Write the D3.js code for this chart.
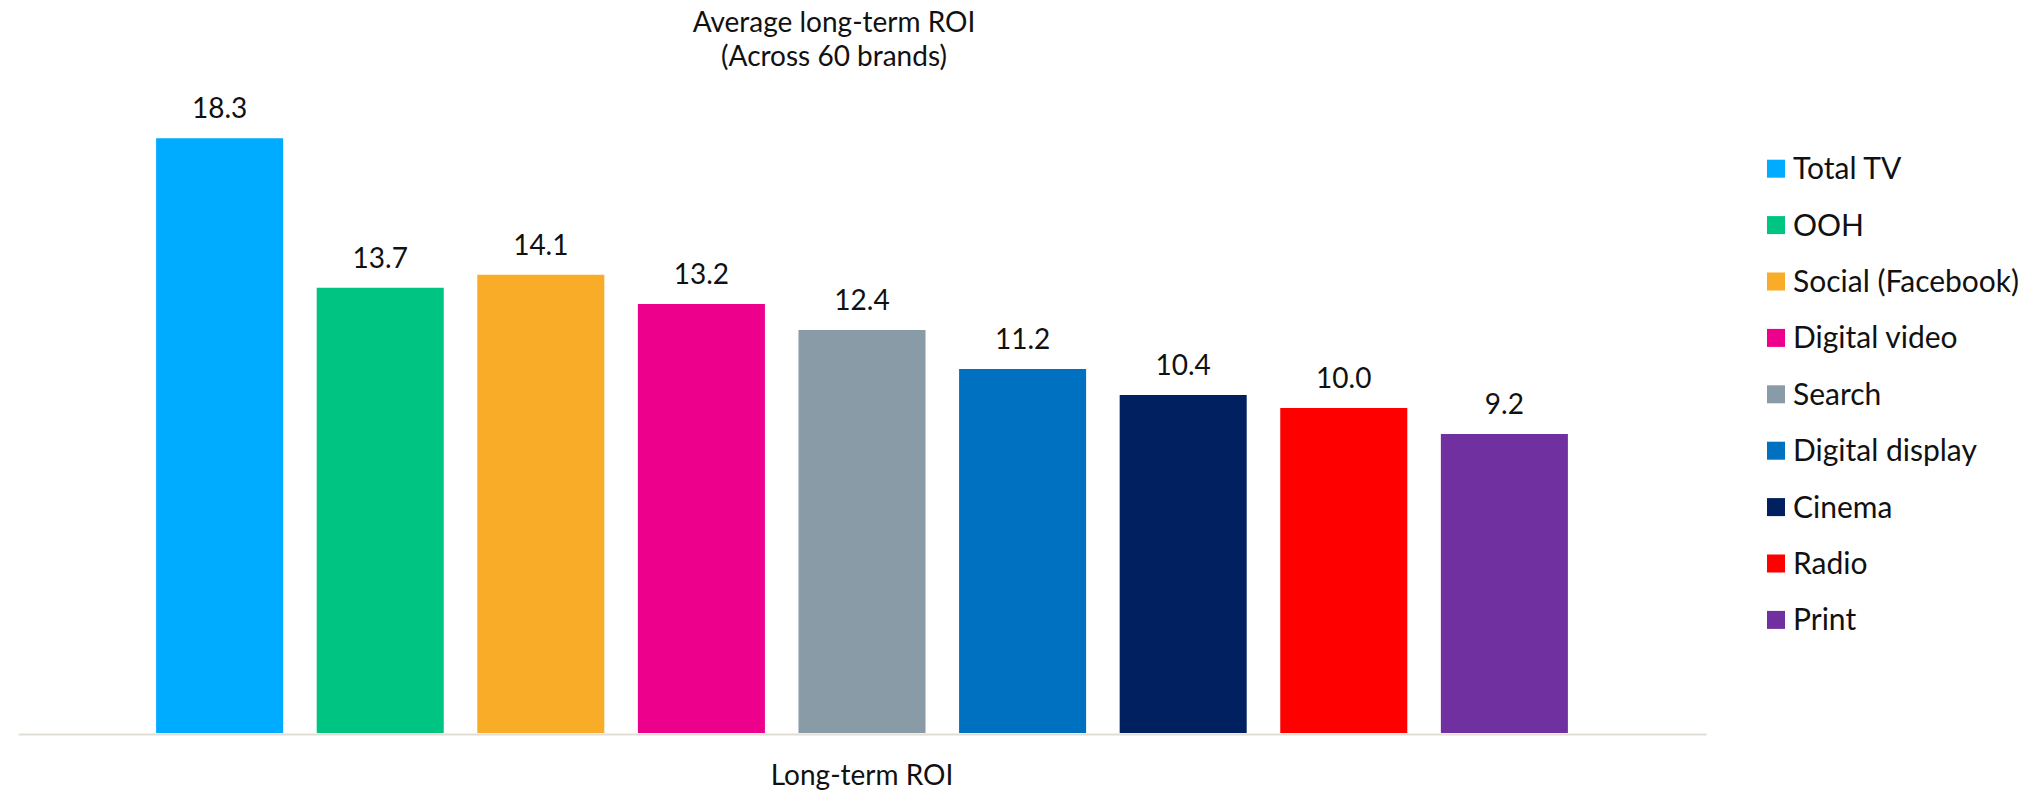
<!DOCTYPE html>
<html>
<head>
<meta charset="utf-8">
<script src="https://cdn.jsdelivr.net/npm/d3@7"></script>
<style>
  body { margin: 0; background: #fff; }
  text { font-family: Lato, "Open Sans", sans-serif; fill: #111; }
</style>
</head>
<body>
<svg id="chart" width="2026" height="792"></svg>
<script>
// data
var categories = ["Total TV", "OOH", "Social (Facebook)", "Digital video", "Search",
                  "Digital display", "Cinema", "Radio", "Print"];
var roi = [18.3, 13.7, 14.1, 13.2, 12.4, 11.2, 10.4, 10.0, 9.2];
var palette = ["#00acff", "#00c482", "#f9ac28", "#ec008c", "#8a9ba8",
               "#0070c0", "#002060", "#ff0000", "#7030a0"];

var width = 2026, height = 792;
var baseY = 733;
var fontSize = 28;

var svg = d3.select("svg#chart");

var x = d3.scaleBand()
    .domain(categories)
    .range([18, 1706])
    .paddingInner(0.209)
    .paddingOuter(0.86);

var y = d3.scaleLinear()
    .domain([0, 20])
    .range([baseY, 83]);

var color = d3.scaleOrdinal().domain(categories).range(palette);

var rows = categories.map(function(c, i){ return {name: c, value: roi[i]}; });

// title
svg.append("text")
    .attr("x", 834)
    .attr("text-anchor", "middle")
    .style("font-size", fontSize + "px")
    .selectAll("tspan")
    .data(["Average long-term ROI", "(Across 60 brands)"])
    .enter()
    .append("tspan")
    .attr("x", 834)
    .attr("y", function(d, i){ return 32 + i * 34; })
    .text(function(d){ return d; });

// bars
svg.append("g")
    .selectAll("rect")
    .data(rows)
    .enter()
    .append("rect")
    .attr("x", function(d){ return x(d.name); })
    .attr("y", function(d){ return y(d.value); })
    .attr("width", x.bandwidth())
    .attr("height", function(d){ return baseY - y(d.value); })
    .style("fill", function(d){ return color(d.name); });

// value labels
svg.append("g")
    .selectAll("text")
    .data(rows)
    .enter()
    .append("text")
    .attr("x", function(d){ return x(d.name) + x.bandwidth() / 2; })
    .attr("y", function(d){ return y(d.value) - 20; })
    .attr("text-anchor", "middle")
    .style("font-size", fontSize + "px")
    .text(function(d){ return d.value.toFixed(1); });

// x axis line, no ticks
var axis = svg.append("g")
    .attr("transform", "translate(0," + (baseY + 1) + ")")
    .call(d3.axisBottom(x).tickSize(0).tickFormat(""));
axis.select(".domain").attr("stroke", "#e2ded6").attr("stroke-width", 2);

svg.append("text")
    .attr("x", (x.range()[0] + x.range()[1]) / 2)
    .attr("y", 785)
    .attr("text-anchor", "middle")
    .style("font-size", fontSize + "px")
    .text("Long-term ROI");

// legend
var legend = svg.append("g")
    .selectAll("g")
    .data(categories)
    .enter()
    .append("g")
    .attr("transform", function(d, i){ return "translate(1767," + (168.7 + i * 56.4) + ")"; });

legend.append("rect")
    .attr("x", 0)
    .attr("y", -9)
    .attr("width", 18)
    .attr("height", 18)
    .style("fill", function(d){ return color(d); });

legend.append("text")
    .attr("x", 26)
    .attr("y", 10.5)
    .style("font-size", "30px")
    .text(function(d){ return d; });
</script>
</body>
</html>
